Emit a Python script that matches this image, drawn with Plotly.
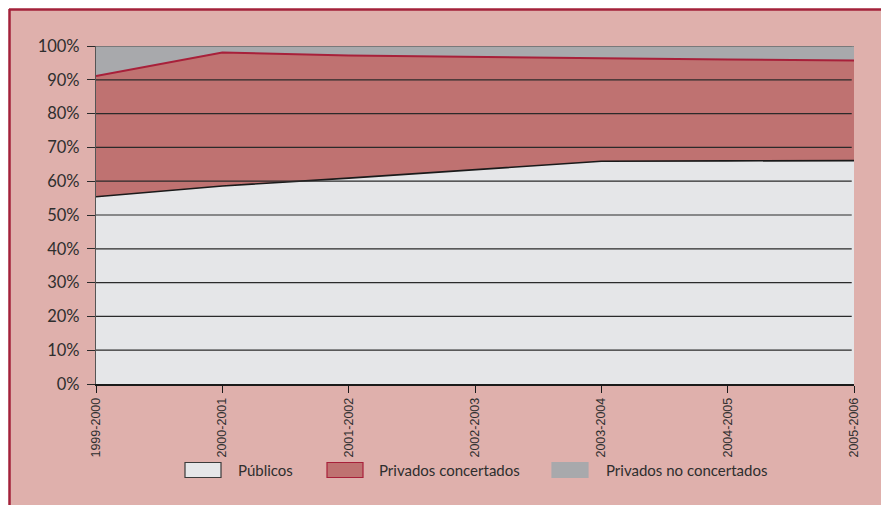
import plotly.graph_objects as go

# School years on the horizontal axis
cursos = ["1999-2000", "2000-2001", "2001-2002", "2002-2003",
          "2003-2004", "2004-2005", "2005-2006"]

# Share of students per type of centre (%)
publicos = [55.4, 58.6, 60.9, 63.3, 65.9, 66.0, 66.1]
privados_concertados = [35.7, 39.5, 36.3, 33.4, 30.5, 30.0, 29.6]
privados_no_concertados = [8.9, 1.9, 2.8, 3.3, 3.6, 4.0, 4.3]

y_ticks = [0, 10, 20, 30, 40, 50, 60, 70, 80, 90, 100]
y_tick_text = [f"{v}%" for v in y_ticks]

PANEL = "#dfb0ac"
BORDER = "#a3223a"
TEXT = "#2e2e2e"
FONT = "Lato, 'Noto Sans', sans-serif"
AXIS_FONT = "'Liberation Sans', Arial, sans-serif"

series = [
    dict(name="Públicos", values=publicos, line="#1a1a1a", lw=1.6,
         fill="#e5e6e8", key_border="#3a3a3a"),
    dict(name="Privados concertados", values=privados_concertados,
         line="#a8203a", lw=2, fill="#bf7271", key_border="#a8203a"),
    dict(name="Privados no concertados", values=privados_no_concertados,
         line="#7a7a7a", lw=1.5, fill="#a8a9ac", key_border=None),
]

fig = go.Figure()
for s in series:
    fig.add_trace(go.Scatter(
        x=cursos, y=s["values"], name=s["name"], stackgroup="s",
        mode="lines", line=dict(color=s["line"], width=s["lw"]),
        fillcolor=s["fill"], showlegend=False))

L, R, T, B = 96, 27, 46, 121
W, H = 881, 505
pw, ph = W - L - R, H - T - B

def px_x(p):
    return (p - L) / pw

def px_y(p):
    return (H - B - p) / ph

shapes = [
    # framed panel behind the chart
    dict(type="rect", xref="paper", yref="paper", layer="below",
         x0=px_x(9), x1=px_x(W + 10), y0=px_y(H + 10), y1=px_y(9),
         fillcolor=PANEL, line=dict(width=0)),
    dict(type="line", xref="paper", yref="paper", layer="above",
         x0=px_x(9), x1=px_x(W + 10), y0=px_y(9.5), y1=px_y(9.5),
         line=dict(color=BORDER, width=2.5)),
    dict(type="line", xref="paper", yref="paper", layer="above",
         x0=px_x(9.5), x1=px_x(9.5), y0=px_y(9), y1=px_y(H + 10),
         line=dict(color=BORDER, width=2.5)),
]
# horizontal grid drawn over the filled areas
for v in y_ticks[1:]:
    shapes.append(dict(
        type="line", xref="paper", yref="y", layer="above",
        x0=0, x1=0.997, y0=v, y1=v,
        line=dict(color="#6e6e6e" if v == 100 else "#2a2a2a", width=1.2)))

# legend row: key box + label for each series
annotations = []
key_left = [185, 327, 552]
label_left = [236, 377, 604]
legend_mid = 470
for s, kx, tx in zip(series, key_left, label_left):
    shapes.append(dict(
        type="rect", xref="paper", yref="paper", layer="above",
        x0=px_x(kx), x1=px_x(kx + 36),
        y0=px_y(legend_mid + 7.5), y1=px_y(legend_mid - 7.5),
        fillcolor=s["fill"],
        line=dict(color=s["key_border"] or s["fill"], width=1.2)))
    annotations.append(dict(
        xref="paper", yref="paper", x=px_x(tx), y=px_y(legend_mid),
        xanchor="left", yanchor="middle", showarrow=False,
        text=s["name"], font=dict(family=FONT, size=15, color=TEXT)))

fig.update_layout(
    width=W, height=H,
    margin=dict(l=L, r=R, t=T, b=B),
    paper_bgcolor="white",
    plot_bgcolor="rgba(0,0,0,0)",
    font=dict(family=FONT, color=TEXT),
    shapes=shapes,
    annotations=annotations,
    showlegend=False,
    xaxis=dict(type="category", range=[0, 6], showgrid=False,
               showline=True, linecolor="#1a1a1a", linewidth=1.5,
               ticks="outside", ticklen=7, tickcolor="#1a1a1a",
               tickangle=-90,
               tickfont=dict(family=AXIS_FONT, size=12.5, color=TEXT)),
    yaxis=dict(range=[0, 100], tickvals=y_ticks, ticktext=y_tick_text,
               showgrid=False, zeroline=False,
               showline=True, linecolor="#555555", linewidth=1.2,
               ticks="outside", ticklen=8, tickcolor="#2a2a2a",
               ticklabelstandoff=4,
               tickfont=dict(family=FONT, size=16.5, color=TEXT)),
)

fig.write_html("out.html")
